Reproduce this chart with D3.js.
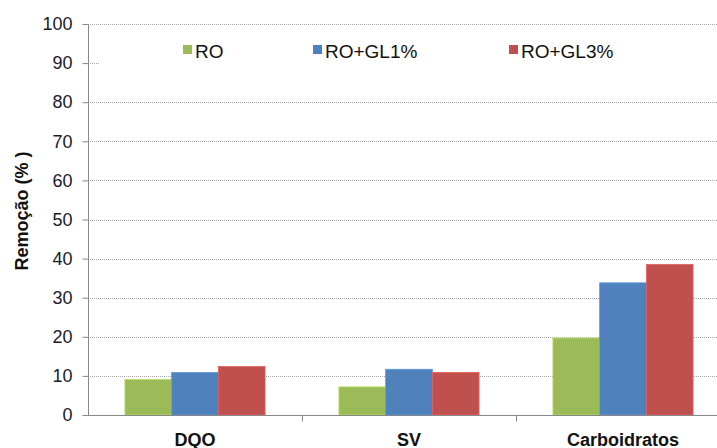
<!DOCTYPE html>
<html>
<head>
<meta charset="utf-8">
<script src="https://cdn.jsdelivr.net/npm/d3@7"></script>
<style>
  body { margin: 0; background: #fff; }
  svg { font-family: "Liberation Sans", Arial, sans-serif; }
</style>
</head>
<body>
<svg width="717" height="448"></svg>
<script>
var categories = ["DQO", "SV", "Carboidratos"];
var series = ["RO", "RO+GL1%", "RO+GL3%"];
var colors = ["#9bbb59", "#4f81bd", "#c0504d"];
var valRO = [9.1, 7.2, 19.7];
var valGL1 = [10.9, 11.7, 33.8];
var valGL3 = [12.4, 10.9, 38.5];
var yTicks = [0, 10, 20, 30, 40, 50, 60, 70, 80, 90, 100];

var values = [valRO, valGL1, valGL3];

var svg = d3.select("svg");
var mLeft = 88, mTop = 24, mBottom = 415, mRight = 730;

var x = d3.scaleBand()
  .domain(categories)
  .range([mLeft, mRight]);

var xInner = d3.scaleBand()
  .domain(series)
  .range([0, x.bandwidth()])
  .paddingOuter(0.79)
  .paddingInner(0);

var y = d3.scaleLinear()
  .domain([0, 100])
  .range([mBottom, mTop]);

// grid
svg.append("g")
  .selectAll("line")
  .data(yTicks.filter(function(d) { return d > 0; }))
  .enter()
  .append("line")
  .attr("x1", mLeft)
  .attr("x2", mRight)
  .attr("y1", function(d) { return Math.round(y(d)) + 0.5; })
  .attr("y2", function(d) { return Math.round(y(d)) + 0.5; })
  .attr("stroke", "#a8a8a8")
  .attr("stroke-width", 1)
  .attr("stroke-dasharray", "1,1");

// bars
series.forEach(function(s, i) {
  svg.append("g")
    .selectAll("rect")
    .data(categories)
    .enter()
    .append("rect")
    .attr("x", function(c) { return x(c) + xInner(s); })
    .attr("width", xInner.bandwidth())
    .attr("y", function(c, j) { return y(values[i][j]); })
    .attr("height", function(c, j) { return mBottom - y(values[i][j]); })
    .attr("fill", colors[i])
    .attr("stroke", d3.color(colors[i]).brighter(0.5))
    .attr("stroke-width", 0.8);
});

// y axis
var yAxis = svg.append("g")
  .attr("transform", "translate(" + (mLeft + 0.5) + ",0)")
  .call(d3.axisLeft(y).tickValues(yTicks).tickSize(6).tickPadding(10));
yAxis.select(".domain").attr("stroke", "#888").attr("d", "M0," + (mTop + 0.5) + "V" + (mBottom + 0.5));
yAxis.selectAll(".tick line").attr("stroke", "#888");
yAxis.selectAll(".tick text")
  .attr("font-size", "18px")
  .attr("fill", "#1a1a2e")
  .attr("font-family", "Liberation Sans, Arial, sans-serif");

// x axis
var xAxis = svg.append("g")
  .attr("transform", "translate(0," + (mBottom + 0.5) + ")");
xAxis.append("line")
  .attr("x1", mLeft)
  .attr("x2", mRight)
  .attr("stroke", "#888");
xAxis.selectAll("line.tk")
  .data(categories)
  .enter()
  .append("line")
  .attr("class", "tk")
  .attr("x1", function(c) { return Math.round(x(c) + x.bandwidth()) + 0.5; })
  .attr("x2", function(c) { return Math.round(x(c) + x.bandwidth()) + 0.5; })
  .attr("y1", 0)
  .attr("y2", 6)
  .attr("stroke", "#888");
xAxis.selectAll("text")
  .data(categories)
  .enter()
  .append("text")
  .attr("x", function(c) { return x(c) + x.bandwidth() / 2; })
  .attr("y", 30)
  .attr("text-anchor", "middle")
  .attr("font-size", "18px")
  .attr("font-weight", "bold")
  .attr("fill", "#111")
  .text(function(c) { return c; });

// y label
svg.append("text")
  .attr("transform", "translate(28,211) rotate(-90)")
  .attr("text-anchor", "middle")
  .attr("font-size", "18px")
  .attr("font-weight", "bold")
  .attr("fill", "#111")
  .text("Remoção (% )");

// legend
svg.append("rect")
  .attr("x", 100)
  .attr("y", 36)
  .attr("width", 617)
  .attr("height", 44)
  .attr("fill", "#fff");
var legendX = [183, 313, 509];
var legend = svg.append("g")
  .selectAll("g")
  .data(series)
  .enter()
  .append("g")
  .attr("transform", function(d, i) { return "translate(" + legendX[i] + ",45)"; });
legend.append("rect")
  .attr("width", 9)
  .attr("height", 9)
  .attr("fill", function(d, i) { return colors[i]; });
legend.append("text")
  .attr("x", 12)
  .attr("y", 13)
  .attr("font-size", "19px")
  .attr("fill", "#111")
  .text(function(d) { return d; });
</script>
</body>
</html>
